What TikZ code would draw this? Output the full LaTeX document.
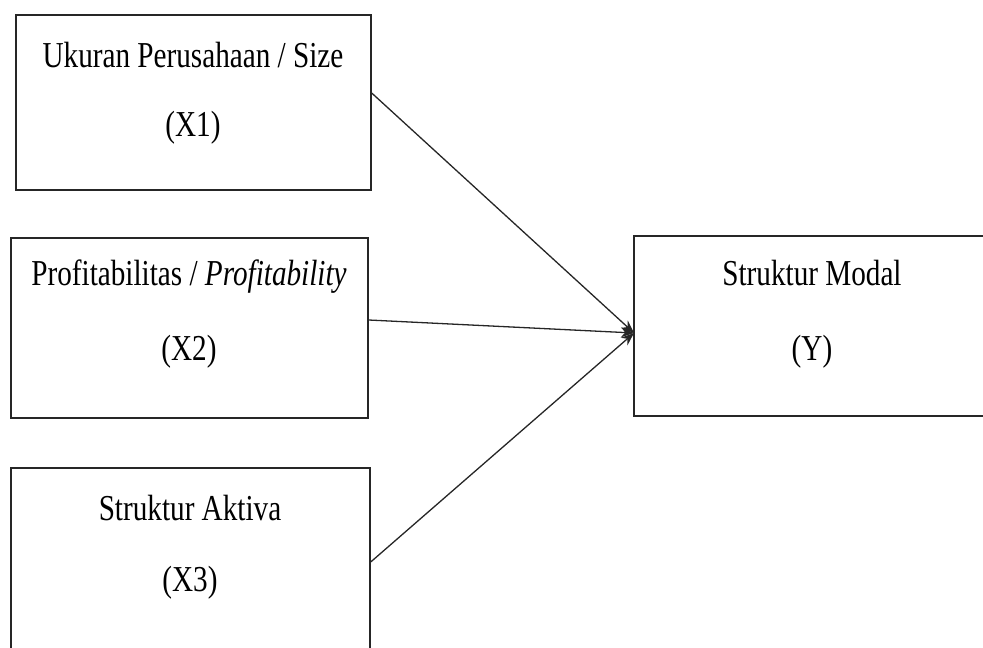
\documentclass[tikz,border=0pt]{standalone}
\usepackage{fontspec}
\setmainfont[FakeStretch=0.8]{Liberation Serif}
\usetikzlibrary{arrows.meta}
\begin{document}
\begin{tikzpicture}[x=1pt,y=-1pt,
  varbox/.style={draw=black!85,line width=1.4pt,rectangle,inner sep=0pt},
  lbl/.style={inner sep=0pt,font=\fontsize{36.5}{43}\selectfont},
  conn/.style={draw=black!85,line width=1.3pt,-{Stealth[length=13pt,width=10pt]}}]
\clip (0,0) rectangle (983,648);
% boxes
\node[varbox,minimum width=355pt,minimum height=175pt] (x1) at (193.5,102.5) {};
\node[varbox,minimum width=357pt,minimum height=180pt] (x2) at (189.5,328) {};
\node[varbox,minimum width=359pt,minimum height=200pt] (x3) at (190.5,568) {};
\node[varbox,minimum width=356pt,minimum height=180pt] (y) at (812,326) {};
% labels
\node[lbl] (t1a) at (193,55) {Ukuran Perusahaan / Size};
\node[lbl] (t1b) at (193,128) {(X1)};
\node[lbl] (t2a) at (189,277) {Profitabilitas / \textit{Profitability}};
\node[lbl] (t2b) at (189,352) {(X2)};
\node[lbl] (t3a) at (190,508) {Struktur Aktiva};
\node[lbl] (t3b) at (190,583) {(X3)};
\node[lbl] (tya) at (812,273) {Struktur Modal};
\node[lbl] (tyb) at (812,352) {(Y)};
% connectors
\coordinate (in) at (634,333);
\draw[conn] (x1.east |- 0,93) -- (in);
\draw[conn] (x2.east |- 0,320) -- (in);
\draw[conn] (x3.east |- 0,562) -- (in);
\end{tikzpicture}
\end{document}
